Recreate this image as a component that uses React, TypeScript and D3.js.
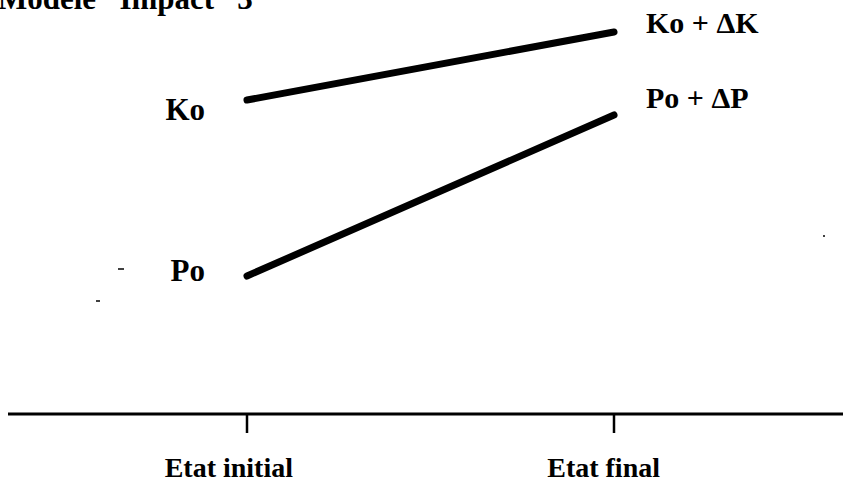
import * as d3 from "d3";
import { useEffect, useRef } from "react";

// states on the horizontal axis
const states = ["Etat initial", "Etat final"];
// the two series (arbitrary units)
const seriesNames = ["K", "P"];
const startLabels = ["Ko", "Po"];
const endLabels = ["Ko + \u0394K", "Po + \u0394P"];
const kValues = [314, 382];
const pValues = [138, 299];

const title = "Mod\u00e8le \u201cImpact\u201d 3";

export default function App() {
  const svgRef = useRef(null);

  useEffect(() => {
    const width = 843;
    const height = 484;
    const svg = d3.select(svgRef.current).attr("width", width).attr("height", height);
    svg.selectAll("*").remove();

    const font = "'Liberation Serif', 'Times New Roman', serif";

    const x = d3.scalePoint().domain(states).range([247, 614]);
    const y = d3.scaleLinear().domain([0, 400]).range([414, 14]);

    // title, cut by the top edge like in the scan
    svg
      .append("text")
      .attr("x", -2)
      .attr("y", 9)
      .attr("font-family", font)
      .attr("font-weight", "bold")
      .attr("font-size", 31)
      .text(title);

    // baseline axis
    svg
      .append("line")
      .attr("x1", 8)
      .attr("x2", width)
      .attr("y1", y(0))
      .attr("y2", y(0))
      .attr("stroke", "#000")
      .attr("stroke-width", 3);

    const g = svg.append("g");
    g.selectAll("line.tick")
      .data(states)
      .enter()
      .append("line")
      .attr("class", "tick")
      .attr("x1", (d) => x(d))
      .attr("x2", (d) => x(d))
      .attr("y1", y(0))
      .attr("y2", y(0) + 19)
      .attr("stroke", "#000")
      .attr("stroke-width", 2.5);

    g.selectAll("text.state")
      .data(states)
      .enter()
      .append("text")
      .attr("class", "state")
      .attr("x", (d) => x(d) + 46)
      .attr("y", y(0) + 63)
      .attr("text-anchor", "end")
      .attr("font-family", font)
      .attr("font-weight", "bold")
      .attr("font-size", 28)
      .text((d) => d);

    const series = [kValues, pValues];
    const line = d3
      .line()
      .x((_, i) => x(states[i]))
      .y((d) => y(d));

    series.forEach((vals, i) => {
      svg
        .append("path")
        .attr("d", line(vals))
        .attr("fill", "none")
        .attr("stroke", "#000")
        .attr("stroke-width", 7)
        .attr("stroke-linecap", "round")
        .attr("data-series", seriesNames[i]);

      svg
        .append("text")
        .attr("x", x(states[0]) - 42)
        .attr("y", y(vals[0]) + (i === 0 ? 20 : 5))
        .attr("text-anchor", "end")
        .attr("font-family", font)
        .attr("font-weight", "bold")
        .attr("font-size", 31)
        .text(startLabels[i]);

      svg
        .append("text")
        .attr("x", x(states[1]) + 32)
        .attr("y", y(vals[1]) + (i === 0 ? 1 : -7))
        .attr("font-family", font)
        .attr("font-weight", "bold")
        .attr("font-size", 30)
        .text(endLabels[i]);
    });

    // small scan specks
    svg.append("line").attr("x1", 118).attr("x2", 124).attr("y1", 269).attr("y2", 269).attr("stroke", "#000").attr("stroke-width", 1.5);
    svg.append("line").attr("x1", 96).attr("x2", 100).attr("y1", 301).attr("y2", 301).attr("stroke", "#000").attr("stroke-width", 1.5);
    svg.append("circle").attr("cx", 824).attr("cy", 236).attr("r", 1).attr("fill", "#000");
  }, []);

  return (
    <div style={{ position: "fixed", left: 0, top: 0, background: "#fff" }}>
      <svg ref={svgRef}></svg>
    </div>
  );
}
